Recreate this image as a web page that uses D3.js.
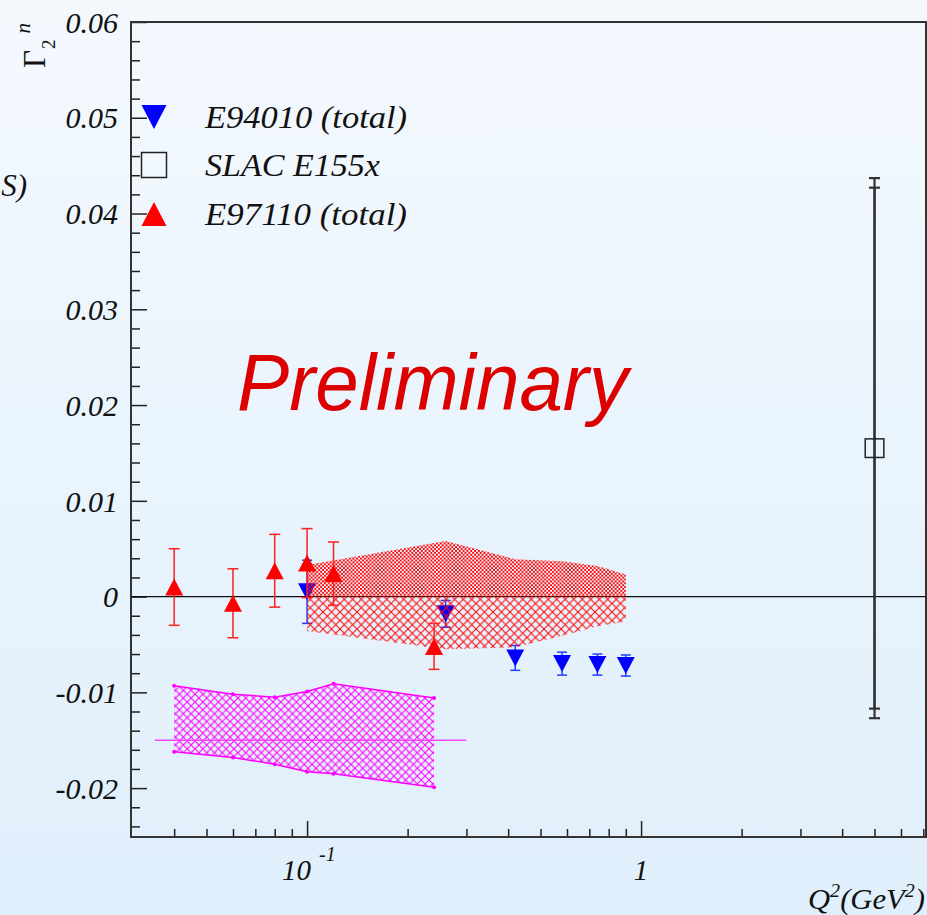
<!DOCTYPE html>
<html>
<head>
<meta charset="utf-8">
<script src="https://cdn.jsdelivr.net/npm/d3@7"></script>
<style>
  html, body { margin: 0; padding: 0; overflow: hidden; }
  svg { display: block; }
</style>
</head>
<body>
<svg id="chart" width="927" height="915"></svg>
<script>
// ---------------- data ----------------
const e94010Q2  = [0.10, 0.26, 0.42, 0.58, 0.74, 0.90];
const e94010G   = [0.0005, -0.0018, -0.0064, -0.0070, -0.0071, -0.0072];
const e94010Err = [0.0033, 0.0014, 0.0013, 0.0012, 0.0011, 0.0011];

const e97110Q2  = [0.04, 0.06, 0.08, 0.10, 0.12, 0.24];
const e97110G   = [0.0010, -0.0007, 0.0027, 0.0035, 0.0024, -0.0052];
const e97110Err = [0.0040, 0.0036, 0.0038, 0.0036, 0.0033, 0.0024];

const slacQ2 = [5.0];
const slacG = [0.0155];
const slacErrStat = [0.0272];
const slacErrTot = [0.0282];

// E94010 systematic band (red)
const redBandQ2 = [0.10, 0.26, 0.42, 0.58, 0.74, 0.90];
const redBandHi = [0.0033, 0.0058, 0.0039, 0.0037, 0.0032, 0.0023];
const redBandLo = [-0.0036, -0.0055, -0.0053, -0.0041, -0.0031, -0.0026];

// E97110 systematic band (magenta)
const magBandQ2 = [0.04, 0.06, 0.08, 0.10, 0.12, 0.24];
const magBandHi = [-0.0093, -0.0102, -0.0105, -0.0099, -0.0091, -0.0106];
const magBandLo = [-0.0162, -0.0168, -0.0175, -0.0183, -0.0185, -0.0199];
const magLineQ2 = [0.035, 0.30];
const magLineG = [-0.015, -0.015];

const yMajorTicks = [-0.02, -0.01, 0, 0.01, 0.02, 0.03, 0.04, 0.05, 0.06];
const yTickLabels = ["-0.02", "-0.01", "0", "0.01", "0.02", "0.03", "0.04", "0.05", "0.06"];
const xMajorTicks = [0.1, 1];
const xMinorTicks = [0.04, 0.05, 0.06, 0.07, 0.08, 0.09, 0.2, 0.3, 0.4, 0.5, 0.6, 0.7, 0.8, 0.9, 2, 3, 4, 5, 6, 7];

const legendItems = [
  { label: "E94010 (total)", kind: "down", color: "#0000ff", len: 202 },
  { label: "SLAC E155x", kind: "square", color: "#333", len: 175 },
  { label: "E97110 (total)", kind: "up", color: "#ff0000", len: 202 }
];

// ---------------- setup ----------------
const svg = d3.select("#chart");
const W = 927, H = 915;
const x = d3.scaleLog().domain([0.0295, 7.13]).range([130, 926]);
const y = d3.scaleLinear().domain([-0.025, 0.06]).range([836, 22]);

const defs = svg.append("defs");
const grad = defs.append("linearGradient").attr("id", "bg").attr("x1", 0).attr("y1", 0).attr("x2", 0).attr("y2", 1);
grad.append("stop").attr("offset", "0%").attr("stop-color", "#f4f9fe");
grad.append("stop").attr("offset", "100%").attr("stop-color", "#dfeffb");

function crossPattern(id, size, color, width) {
  const p = defs.append("pattern").attr("id", id).attr("patternUnits", "userSpaceOnUse")
    .attr("width", size).attr("height", size);
  p.append("path")
    .attr("d", `M0,0L${size},${size}M${size},0L0,${size}`)
    .attr("stroke", color).attr("stroke-width", width).attr("fill", "none");
}
crossPattern("redDense", 3.8, "#ff0a0a", 0.95);
crossPattern("redCoarse", 8.5, "#ff0a0a", 1.1);
crossPattern("magCoarse", 7.8, "#ff00ff", 1.05);

svg.append("rect").attr("width", W).attr("height", H).attr("fill", "url(#bg)");

const serif = "'Liberation Serif', 'Times New Roman', serif";

// ---------------- axes ----------------
const yAxisMajor = d3.axisLeft(y).tickValues(yMajorTicks)
  .tickFormat((d, i) => yTickLabels[i]).tickSizeInner(-16).tickSizeOuter(0).tickPadding(13);
const yMinorVals = d3.range(-24, 61, 2).map(v => v / 1000).filter(v => !yMajorTicks.some(m => Math.abs(m - v) < 1e-9));
const yAxisMinor = d3.axisLeft(y).tickValues(yMinorVals).tickFormat("").tickSizeInner(-9).tickSizeOuter(0);

const gy = svg.append("g").attr("transform", "translate(131,0)").call(yAxisMajor);
svg.append("g").attr("transform", "translate(131,0)").call(yAxisMinor);
gy.selectAll("text").attr("font-family", serif).attr("font-style", "italic").attr("font-size", 30)
  .attr("fill", "#111").attr("dy", "0.34em");

const xAxisMajor = d3.axisBottom(x).tickValues(xMajorTicks).tickFormat("").tickSizeInner(-16).tickSizeOuter(0);
const xAxisMinor = d3.axisBottom(x).tickValues(xMinorTicks).tickFormat("").tickSizeInner(-8).tickSizeOuter(0);
svg.append("g").attr("transform", "translate(0,837)").call(xAxisMajor);
svg.append("g").attr("transform", "translate(0,837)").call(xAxisMinor);

svg.selectAll(".domain").remove();
svg.selectAll(".tick line").attr("stroke", "#222").attr("stroke-width", 1.5);

// frame
svg.append("rect").attr("x", 131).attr("y", 22).attr("width", 926 - 131).attr("height", 837 - 22)
  .attr("fill", "none").attr("stroke", "#333").attr("stroke-width", 2);

// x tick labels
const lab10 = svg.append("text").attr("x", x(0.1) - 25).attr("y", 880)
  .attr("font-family", serif).attr("font-style", "italic").attr("font-size", 29).attr("fill", "#111");
lab10.append("tspan").text("10");
lab10.append("tspan").attr("dx", 8).attr("dy", -19).attr("font-size", 20).text("-1");
svg.append("text").attr("x", x(1)).attr("y", 880).attr("text-anchor", "middle")
  .attr("font-family", serif).attr("font-style", "italic").attr("font-size", 29).attr("fill", "#111").text("1");

// x axis title
const xt = svg.append("text").attr("x", 925).attr("y", 909).attr("text-anchor", "end")
  .attr("font-family", serif).attr("font-style", "italic").attr("font-size", 29).attr("fill", "#111")
  .attr("textLength", 117).attr("lengthAdjust", "spacingAndGlyphs");
xt.append("tspan").text("Q");
xt.append("tspan").attr("dy", -12).attr("font-size", 19).text("2");
xt.append("tspan").attr("dy", 12).text("(GeV");
xt.append("tspan").attr("dy", -12).attr("font-size", 19).text("2");
xt.append("tspan").attr("dy", 12).text(")");

// y axis title
const yt = svg.append("text").attr("transform", "translate(45,68) rotate(-90)")
  .attr("font-family", serif).attr("font-size", 31).attr("fill", "#111");
yt.append("tspan").text("\u0393");
yt.append("tspan").attr("dy", 10).attr("dx", 1).attr("font-size", 19).text("2");
yt.append("tspan").attr("dy", -25).attr("dx", 6).attr("font-size", 21).attr("font-style", "italic").text("n");

// fragment at left edge
svg.append("text").attr("x", 27).attr("y", 196).attr("text-anchor", "end")
  .attr("font-family", serif).attr("font-style", "italic").attr("font-size", 31).attr("fill", "#111").text("S)");

// zero line
svg.append("line").attr("x1", 131).attr("x2", 926).attr("y1", y(0)).attr("y2", y(0))
  .attr("stroke", "#111").attr("stroke-width", 1.2);

// ---------------- helpers ----------------
function triPath(kind, w, h) {
  if (kind === "up") return `M${-w/2},${h/2}L${w/2},${h/2}L0,${-h/2}Z`;
  return `M${-w/2},${-h/2}L${w/2},${-h/2}L0,${h/2}Z`;
}
function errorBars(g, q, v, e, color, width, cap) {
  const d = q.map((qq, i) => ({ q: qq, v: v[i], e: e[i] }));
  g.selectAll(null).data(d).enter().append("line")
    .attr("x1", d => x(d.q)).attr("x2", d => x(d.q))
    .attr("y1", d => y(d.v + d.e)).attr("y2", d => y(d.v - d.e))
    .attr("stroke", color).attr("stroke-width", width);
  ["+", "-"].forEach(s => {
    g.selectAll(null).data(d).enter().append("line")
      .attr("x1", d => x(d.q) - cap / 2).attr("x2", d => x(d.q) + cap / 2)
      .attr("y1", d => y(s === "+" ? d.v + d.e : d.v - d.e))
      .attr("y2", d => y(s === "+" ? d.v + d.e : d.v - d.e))
      .attr("stroke", color).attr("stroke-width", width);
  });
}

// ---------------- E94010 (blue) ----------------
const gBlue = svg.append("g");
errorBars(gBlue, e94010Q2, e94010G, e94010Err, "#2040ff", 1.5, 10);
gBlue.selectAll("path").data(e94010Q2).enter().append("path")
  .attr("d", triPath("down", 18, 17))
  .attr("transform", (d, i) => `translate(${x(d)},${y(e94010G[i])})`)
  .attr("fill", "#0000ff");

// ---------------- red band ----------------
const redData = redBandQ2.map((q, i) => ({ q, hi: redBandHi[i], lo: redBandLo[i] }));
svg.append("path").datum(redData)
  .attr("d", d3.area().x(d => x(d.q)).y0(y(0)).y1(d => y(d.hi)))
  .attr("fill", "url(#redDense)");
svg.append("path").datum(redData)
  .attr("d", d3.area().x(d => x(d.q)).y0(y(0)).y1(d => y(d.lo)))
  .attr("fill", "url(#redCoarse)");

// ---------------- magenta band ----------------
const magData = magBandQ2.map((q, i) => ({ q, hi: magBandHi[i], lo: magBandLo[i] }));
svg.append("path").datum(magData)
  .attr("d", d3.area().x(d => x(d.q)).y0(d => y(d.lo)).y1(d => y(d.hi)))
  .attr("fill", "url(#magCoarse)");
svg.append("path").attr("d", d3.line().x(d => x(d.q)).y(d => y(d.hi))(magData))
  .attr("fill", "none").attr("stroke", "#ff00ff").attr("stroke-width", 1.5);
svg.append("path").attr("d", d3.line().x(d => x(d.q)).y(d => y(d.lo))(magData))
  .attr("fill", "none").attr("stroke", "#ff00ff").attr("stroke-width", 1.5);
["hi", "lo"].forEach(k => {
  svg.selectAll(null).data(magData).enter().append("circle")
    .attr("cx", d => x(d.q)).attr("cy", d => y(d[k])).attr("r", 2).attr("fill", "#ff00ff");
});
svg.append("line")
  .attr("x1", x(magLineQ2[0])).attr("x2", x(magLineQ2[1]))
  .attr("y1", y(magLineG[0])).attr("y2", y(magLineG[1]))
  .attr("stroke", "#ff44ff").attr("stroke-width", 1.5);

// ---------------- E97110 (red) ----------------
const gRed = svg.append("g");
errorBars(gRed, e97110Q2, e97110G, e97110Err, "#ff2020", 1.5, 11);
gRed.selectAll("path").data(e97110Q2).enter().append("path")
  .attr("d", triPath("up", 18, 17))
  .attr("transform", (d, i) => `translate(${x(d)},${y(e97110G[i])})`)
  .attr("fill", "#ff0000");

// ---------------- SLAC E155x ----------------
const gS = svg.append("g");
errorBars(gS, slacQ2, slacG, slacErrTot, "#333", 2.2, 11);
errorBars(gS, slacQ2, slacG, slacErrStat, "#333", 2.2, 11);
gS.selectAll("rect").data(slacQ2).enter().append("rect")
  .attr("x", d => x(d) - 9.3).attr("y", (d, i) => y(slacG[i]) - 9.3)
  .attr("width", 18.6).attr("height", 18.6)
  .attr("fill", "none").attr("stroke", "#222").attr("stroke-width", 1.5);

// ---------------- Preliminary ----------------
svg.append("text").attr("x", 237).attr("y", 410)
  .attr("font-family", "'Liberation Sans', Arial, sans-serif").attr("font-style", "italic")
  .attr("font-size", 79).attr("fill", "#dd0000")
  .attr("textLength", 391).attr("lengthAdjust", "spacingAndGlyphs").text("Preliminary");

// ---------------- legend ----------------
const legY = [117, 165, 214];
const leg = svg.append("g");
legendItems.forEach((it, i) => {
  const cy = legY[i];
  if (it.kind === "square") {
    leg.append("rect").attr("x", 154 - 12.5).attr("y", cy - 12.5).attr("width", 25).attr("height", 25)
      .attr("fill", "none").attr("stroke", "#222").attr("stroke-width", 1.5);
  } else {
    leg.append("path").attr("d", triPath(it.kind, 25, 24))
      .attr("transform", `translate(154,${cy})`).attr("fill", it.color);
  }
  leg.append("text").attr("x", 205).attr("y", cy + 11)
    .attr("font-family", serif).attr("font-style", "italic").attr("font-size", 31).attr("fill", "#111")
    .attr("textLength", it.len).attr("lengthAdjust", "spacingAndGlyphs").text(it.label);
});
</script>
</body>
</html>
